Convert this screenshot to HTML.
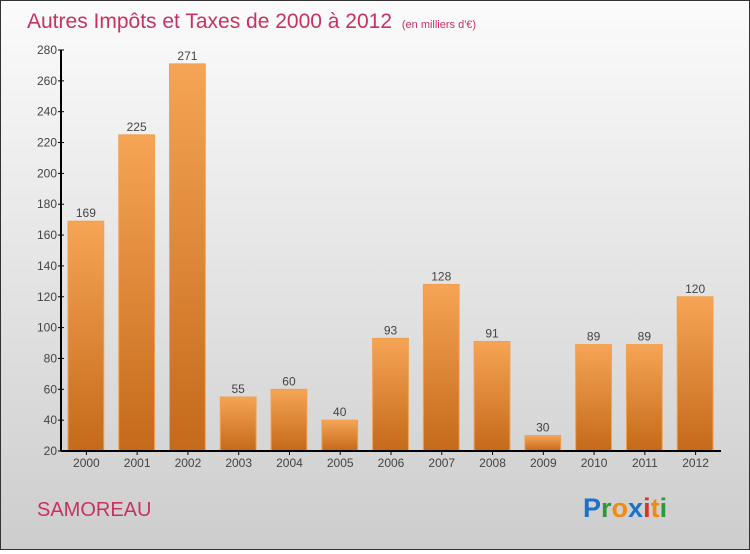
<!DOCTYPE html>
<html><head><meta charset="utf-8"><style>
body{margin:0;width:750px;height:550px;overflow:hidden;font-family:"Liberation Sans",sans-serif}
#wrap{position:absolute;left:0;top:0;width:748px;height:548px;border:1px solid #333;background:linear-gradient(#fbfbfb,#cdcdcd)}
</style></head><body>
<div id="wrap">
<svg id="svg" width="748" height="548" xmlns="http://www.w3.org/2000/svg">
<defs><linearGradient id="bg" x1="0" y1="0" x2="0" y2="1"><stop offset="0" stop-color="#f6a455"/><stop offset="1" stop-color="#c46a1a"/></linearGradient></defs>
<text x="26" y="27" font-size="21" fill="#c8325f">Autres Impôts et Taxes de 2000 à 2012 <tspan font-size="11" dx="4">(en milliers d'€)</tspan></text>
<text x="36" y="515" font-size="20" fill="#c8325f">SAMOREAU</text>
<g font-size="27" font-weight="bold" font-family="Liberation Sans, sans-serif">
<text x="582" y="516"><tspan fill="#1a73c8">P</tspan><tspan fill="#2a9a3a">r</tspan><tspan fill="#f08a10">o</tspan><tspan fill="#1a73c8">x</tspan><tspan fill="#e03020">i</tspan><tspan fill="#f08a10">t</tspan><tspan fill="#2a9a3a">i</tspan></text></g>
<g id="plot"></g>
</svg></div>
<script>
const categories=["2000","2001","2002","2003","2004","2005","2006","2007","2008","2009","2010","2011","2012"];
const values=[169,225,271,55,60,40,93,128,91,30,89,89,120];
const yTicks=[20,40,60,80,100,120,140,160,180,200,220,240,260,280];
const NS="http://www.w3.org/2000/svg";
const g=document.getElementById('plot');
const x0=60,x1=720,yTop=49,yBot=450,yMin=20,yMax=280;
const y=v=>yBot-(v-yMin)/(yMax-yMin)*(yBot-yTop);
const bw=(x1-x0)/categories.length;
const xs=i=>x0+i*bw;
function el(t,a){const e=document.createElementNS(NS,t);for(const k in a)e.setAttribute(k,a[k]);g.appendChild(e);return e;}
yTicks.forEach(t=>{
 const l=el('line',{x1:x0-3,x2:x0+3,y1:y(t),y2:y(t),stroke:'#000'});
 
 
 const tx=el('text',{x:x0-4,y:y(t)+4,'text-anchor':'end','font-size':12,fill:'#444'});
 tx.textContent=t;
 
 
});
categories.forEach((c,i)=>{
 const bx=xs(i)+7,w=bw-15;
 const r=el('rect',{x:bx,y:y(values[i]),width:w,height:yBot-y(values[i]),fill:'url(#bg)',stroke:'#f0a050','stroke-width':1});
 
 
 const v=el('text',{x:bx+w/2,y:y(values[i])-4,'text-anchor':'middle','font-size':12,fill:'#444'});
 v.textContent=values[i];
 
 
 const tk=el('line',{x1:xs(i)+bw/2,x2:xs(i)+bw/2,y1:yBot,y2:yBot+4,stroke:'#000'});
 
 
 const lb=el('text',{x:xs(i)+bw/2,y:yBot+16,'text-anchor':'middle','font-size':12,fill:'#444'});
 lb.textContent=c;
 
 
});
const ya=el('line',{x1:x0,x2:x0,y1:yTop,y2:yBot,stroke:'#000','stroke-width':2});


const xa=el('line',{x1:x0,x2:x1,y1:yBot,y2:yBot,stroke:'#000','stroke-width':2});


</script>
</body></html>
